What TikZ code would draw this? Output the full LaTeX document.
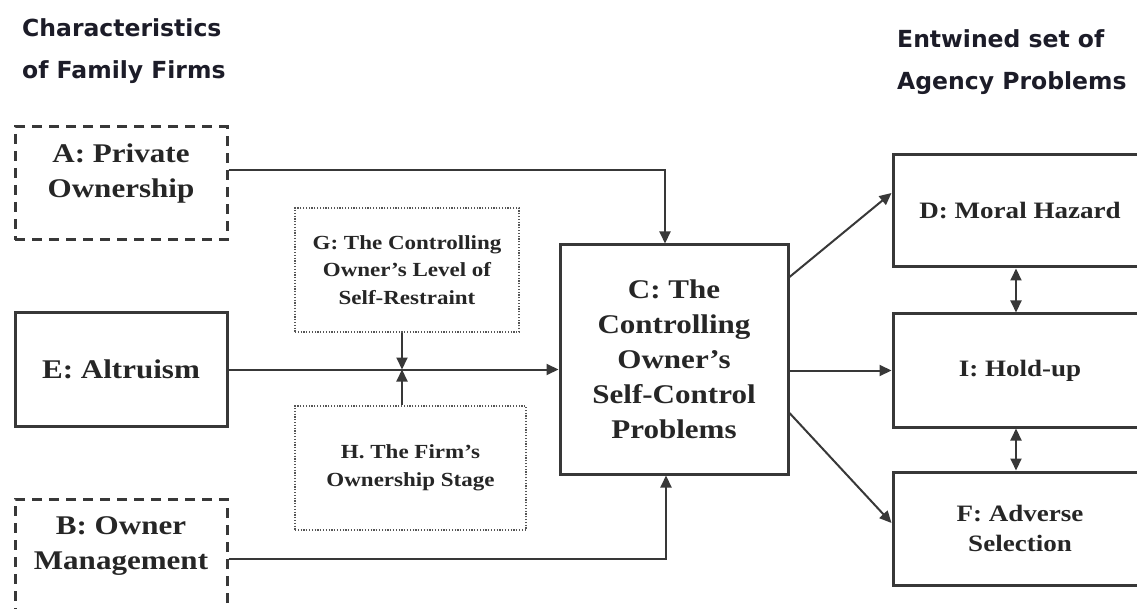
\documentclass[tikz,border=0pt]{standalone}
\usepackage{fontspec}
\setmainfont{Liberation Serif}
\newfontfamily\boxfont{Liberation Serif}[FakeStretch=1.15]
\newfontfamily\hdrfont{DejaVu Sans}
\usetikzlibrary{arrows.meta,calc}
\definecolor{ink}{HTML}{262626}
\definecolor{edge}{HTML}{383838}
\definecolor{hdr}{HTML}{1C1C28}
\tikzset{
  hdrtext/.style={anchor=west,align=left,text=hdr,font=\hdrfont\bfseries\fontsize{23.5}{42}\selectfont,inner sep=0pt},
  solidbox/.style={draw=edge,line width=3pt,rectangle,align=center,text=ink,inner sep=0pt},
  dashbox/.style={draw=edge,line width=3pt,dash pattern=on 10pt off 7pt,rectangle,align=center,text=ink,inner sep=0pt},
  dotbox/.style={draw=edge!85,line width=2.2pt,dash pattern=on 1.2pt off 1.6pt,rectangle,align=center,text=ink,inner sep=0pt},
  bigtxt/.style={font=\boxfont\bfseries\fontsize{27}{35}\selectfont},
  midtxt/.style={font=\boxfont\bfseries\fontsize{23.5}{30}\selectfont},
  smalltxt/.style={font=\boxfont\bfseries\fontsize{20}{27.5}\selectfont},
  conn/.style={draw=edge,line width=2pt,-{Triangle[length=12pt,width=11pt]}},
  dconn/.style={draw=edge,line width=2pt,{Triangle[length=12pt,width=11pt]}-{Triangle[length=12pt,width=11pt]}}
}
\begin{document}
\begin{tikzpicture}[x=1pt,y=-1pt]
\useasboundingbox (0,0) rectangle (1137,609);
% headers
\node[hdrtext] (hl) at (22,51) {Characteristics\\of Family Firms};
\node[hdrtext] (hr) at (897,62) {Entwined set of\\Agency Problems};
% left boxes
\node[dashbox,bigtxt,minimum width=212pt,minimum height=113pt] (A) at (121,183.5) {A: Private\\Ownership\\[-10pt]\mbox{}};
\node[solidbox,bigtxt,minimum width=212pt,minimum height=113pt] (E) at (121,369.5) {E: Altruism};
\node[dashbox,bigtxt,minimum width=212pt,minimum height=113pt] (B) at (121,555.5) {B: Owner\\Management\\[-10pt]\mbox{}};
% moderators
\node[dotbox,smalltxt,minimum width=224pt,minimum height=124pt] (G) at (407,270) {G: The Controlling\\Owner’s Level of\\Self-Restraint};
\node[dotbox,smalltxt,minimum width=231pt,minimum height=124pt] (H) at (410.5,468) {H. The Firm’s\\Ownership Stage};
% central box
\node[solidbox,bigtxt,minimum width=228pt,minimum height=229pt] (C) at (674,359.5) {C: The\\Controlling\\Owner’s\\Self-Control\\Problems};
% right boxes
\node[solidbox,midtxt,minimum width=254pt,minimum height=112pt] (D) at (1020,211) {D: Moral Hazard};
\node[solidbox,midtxt,minimum width=254pt,minimum height=113pt] (I) at (1020,370.5) {I: Hold-up};
\node[solidbox,midtxt,minimum width=254pt,minimum height=113pt] (F) at (1020,528.5) {F: Adverse\\Selection};
% connectors
\coordinate (m) at (402,369.5);
\draw[conn] ([yshift=13.5pt]A.east) -| ([xshift=-9pt]C.north);
\draw[conn] (E.east) -- (E.east -| C.west);
\draw[conn] (G.south -| m) -- (m);
\draw[conn] (H.north -| m) -- (m);
\draw[conn] ([yshift=-3.5pt]B.east) -| ([xshift=-8pt]C.south);
\draw[conn] ([yshift=82.5pt]C.east) -- ([yshift=18pt]D.west);
\draw[conn] (I.west -| C.east) -- (I.west);
\draw[conn] ([yshift=-53.5pt]C.east) -- ([yshift=5.5pt]F.west);
\draw[dconn] ([xshift=-4pt]D.south) -- ([xshift=-4pt]I.north);
\draw[dconn] ([xshift=-4pt]I.south) -- ([xshift=-4pt]F.north);
\end{tikzpicture}
\end{document}
